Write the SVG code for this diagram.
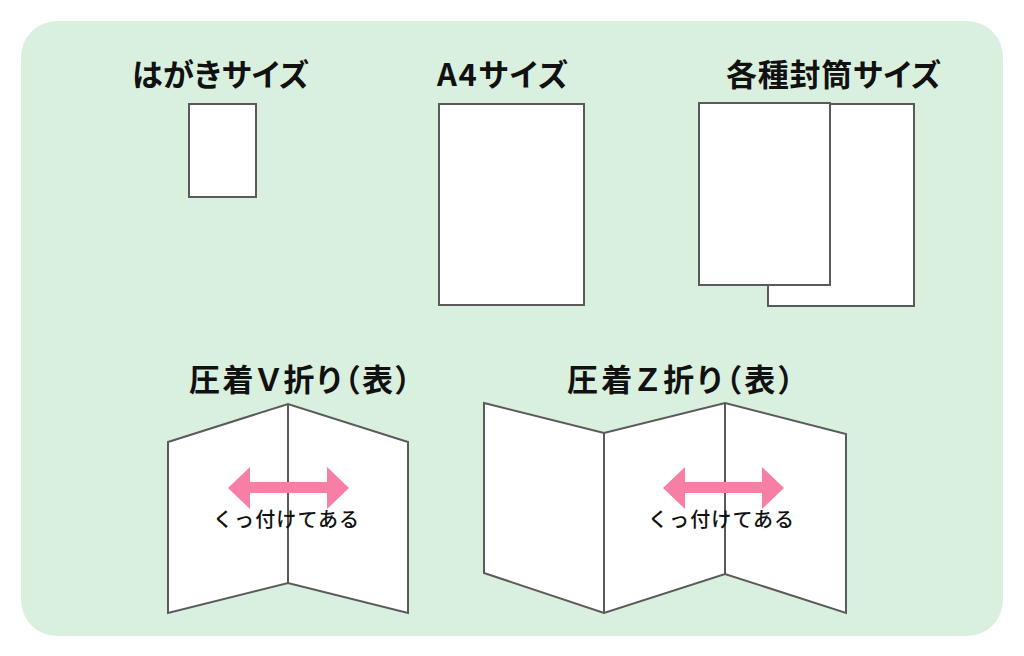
<svg xmlns="http://www.w3.org/2000/svg" width="1024" height="656" viewBox="0 0 1024 656">
<defs>
<style>
.bg{fill:#d9f0de;}
.paper{fill:#ffffff;stroke:#5a5a5a;stroke-width:2;stroke-linejoin:miter;}
.fold{fill:none;stroke:#5a5a5a;stroke-width:2;}
.title{font-family:"Noto Sans CJK JP","Noto Sans",sans-serif;font-weight:bold;font-size:31px;fill:#111111;font-feature-settings:"palt";}
.note{font-family:"Noto Sans CJK JP","Noto Sans",sans-serif;font-weight:500;font-size:20px;fill:#111111;}
.arrow{fill:#f77fa6;}
</style>
</defs>
<rect class="bg" x="21" y="21" width="982" height="615" rx="36" ry="36"/>

<g id="hagaki">
<text class="title" x="132" y="86" textLength="177" lengthAdjust="spacing">はがきサイズ</text>
<rect class="paper" x="189" y="104" width="67" height="93"/>
</g>

<g id="a4">
<text class="title" x="437" y="86" textLength="131" lengthAdjust="spacing">A4サイズ</text>
<rect class="paper" x="439" y="104" width="145" height="201"/>
</g>

<g id="envelope">
<text class="title" x="726" y="86" textLength="215" lengthAdjust="spacing">各種封筒サイズ</text>
<rect class="paper" x="768" y="104" width="146" height="202"/>
<rect class="paper" x="699" y="103" width="131" height="182"/>
</g>

<g id="v-fold">
<text class="title" x="189" y="391" textLength="222" lengthAdjust="spacing">圧着Ｖ折り（表）</text>
<polygon class="paper" points="168,442 288,404 408,442 408,613 288,583 168,613"/>
<line class="fold" x1="288" y1="404" x2="288" y2="583"/>
<polygon class="arrow" points="228,488 250,467 250,482 327,482 327,467 349,488 327,509 327,493 250,493 250,509"/>
<text class="note" x="213" y="527" textLength="146" lengthAdjust="spacing">くっ付けてある</text>
</g>

<g id="z-fold">
<text class="title" x="567" y="391" textLength="227" lengthAdjust="spacing">圧着Ｚ折り（表）</text>
<polygon class="paper" points="484,403 604,433 725,403 846,434 846,613 725,574 604,613 484,573"/>
<line class="fold" x1="604" y1="433" x2="604" y2="613"/>
<line class="fold" x1="725" y1="403" x2="725" y2="574"/>
<polygon class="arrow" points="663,488 685,467 685,482 762,482 762,467 784,488 762,509 762,493 685,493 685,509"/>
<text class="note" x="648" y="527" textLength="146" lengthAdjust="spacing">くっ付けてある</text>
</g>
</svg>
